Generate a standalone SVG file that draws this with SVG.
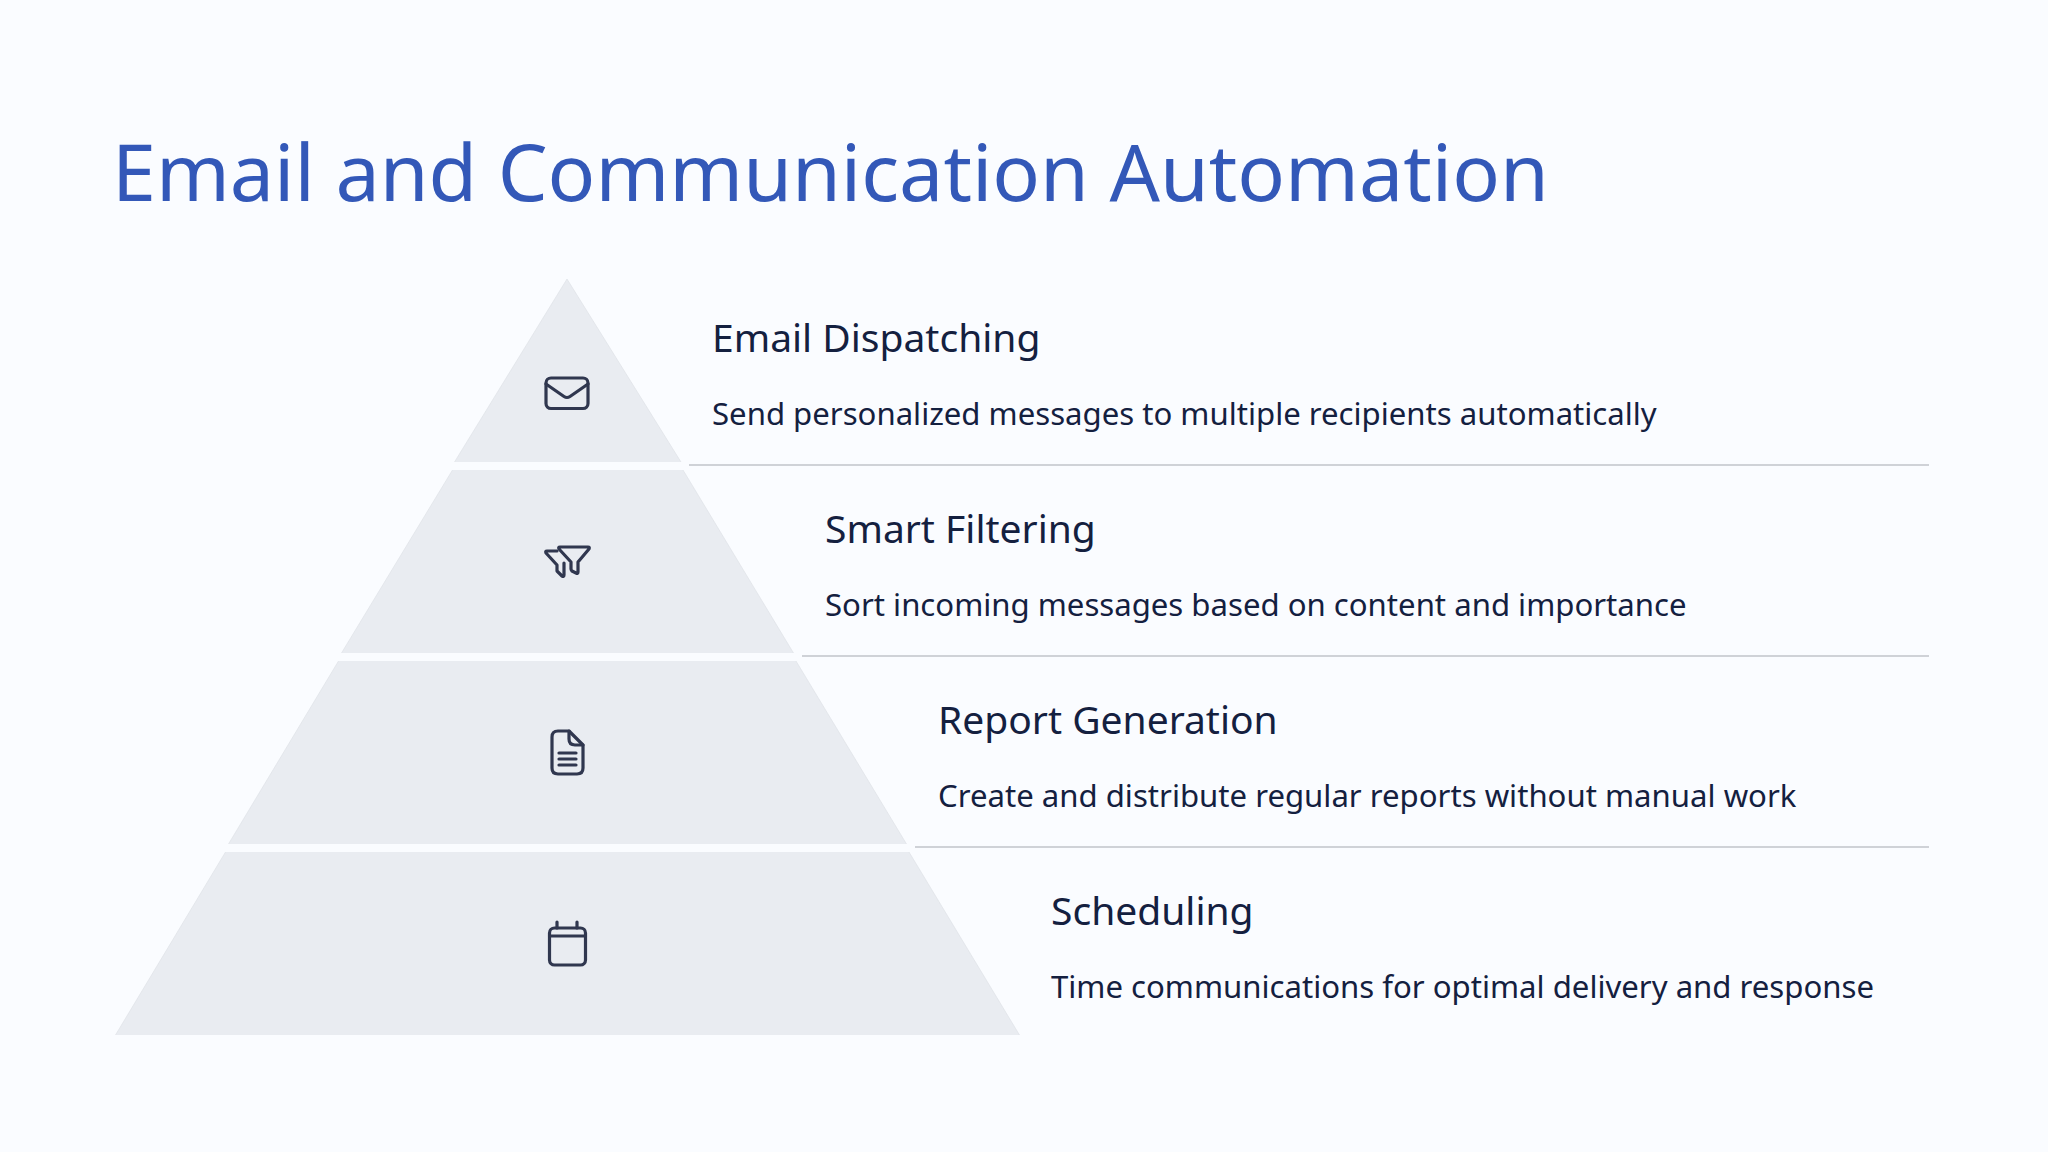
<svg xmlns="http://www.w3.org/2000/svg" width="2048" height="1152" viewBox="0 0 2048 1152">
<style>
.tier{fill:#e9ecf1}
.edge{stroke:#dcdfe4;stroke-width:.6;fill:none}
.rule{stroke:#cfd2d7;stroke-width:2.2;fill:none}
.ic{fill:none;stroke:#30374f;stroke-width:3.2;stroke-linecap:round;stroke-linejoin:round}
.h{font-family:"Noto Sans",sans-serif;font-size:39px;fill:#14203f}
.d{font-family:"Noto Sans",sans-serif;font-size:31.130px;fill:#14203f}
</style>
<rect width="2048" height="1152" fill="#fafcff"/>
<text id="title" x="112" y="201" font-family="Noto Sans, sans-serif" font-size="79" fill="#3358b8">Email and Communication Automation</text>
<g id="connectors">
<path class="rule" d="M689 465H1929M802 656H1929M915 847H1929"/>
</g>
<g id="tier1"><polygon class="tier" points="567,279 681,462 454.500,462"/>
<path class="edge" d="M454.500 462L567 279L681 462"/>
<g class="ic"><rect x="546" y="378" width="42" height="30.500" rx="5"/><path d="M546 384L564 396.500Q567 398.500 570 396.500L588 384"/></g>
<text class="h" x="712" y="352">Email Dispatching</text><text class="d" x="712" y="424.500">Send personalized messages to multiple recipients automatically</text></g>
<g id="tier2"><polygon class="tier" points="452.500,470 683,470 793.500,653 341.500,653"/>
<path class="edge" d="M341.500 653L452.500 470M683 470L793.500 653"/>
<g class="ic"><path d="M560 547H588Q590 547 589 549L578 562V572Q578 574 576 573L572 571Q571 570 571 569V562L559 549Q558 547 560 547Z"/><path d="M557 551H547Q545 551 546 553L557 565V571L562 576Q564 577 564 575V563"/></g>
<text class="h" x="825" y="543">Smart Filtering</text><text class="d" x="825" y="615.500">Sort incoming messages based on content and importance</text></g>
<g id="tier3"><polygon class="tier" points="338.500,661 796,661 906.500,844 228.500,844"/>
<path class="edge" d="M228.500 844L338.500 661M796 661L906.500 844"/>
<g class="ic"><path d="M569 731H558Q552 731 552 737V768Q552 774 558 774H577Q583 774 583 768V745Z"/><path d="M569 731V739Q569 745 575 745H583M559 753H576M559 759H576M559 765H576"/></g>
<text class="h" x="938" y="734">Report Generation</text><text class="d" x="938" y="806.500">Create and distribute regular reports without manual work</text></g>
<g id="tier4"><polygon class="tier" points="225.500,852 909,852 1019.500,1035 115.500,1035"/>
<path class="edge" d="M115.500 1035L225.500 852M909 852L1019.500 1035"/>
<g class="ic"><rect x="549.500" y="928" width="36" height="37" rx="5"/><path d="M549.500 936H585.500M557 922V928M577 922V928"/></g>
<text class="h" x="1051" y="925">Scheduling</text><text class="d" x="1051" y="997.500">Time communications for optimal delivery and response</text></g>
</svg>
